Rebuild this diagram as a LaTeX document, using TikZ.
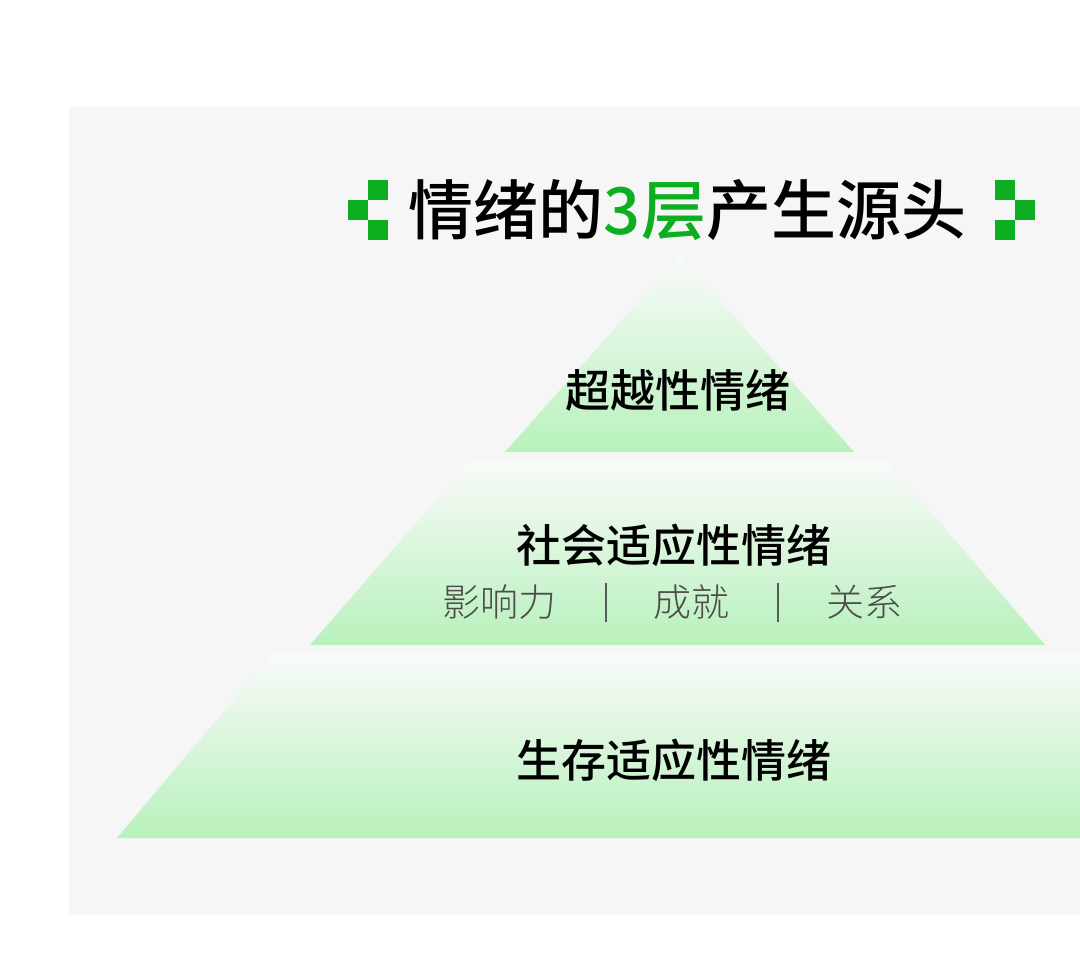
\documentclass[tikz,border=0pt]{standalone}
\usepackage{fontspec}
\usepackage{xcolor}
\usetikzlibrary{positioning}
\setmainfont{Noto Sans CJK SC}
\newfontfamily\cjklight{Noto Sans CJK SC Light}
\newfontfamily\cjkmedium{Noto Sans CJK SC Medium}
\definecolor{panelgray}{HTML}{F6F6F6}
\definecolor{iconsgreen}{HTML}{0DAF20}
\definecolor{layertop}{HTML}{F9FAF9}
\definecolor{layerbot}{HTML}{B8F1BC}
\tikzset{
  pixel/.style={fill=iconsgreen, minimum size=20pt, inner sep=0pt, outer sep=0pt},
  layer/.style={top color=layertop, bottom color=layerbot, draw=none},
  mainlabel/.style={inner sep=0pt, font=\fontsize{45}{45}\selectfont\cjkmedium},
  sublabel/.style={inner sep=0pt, text=black!70, font=\fontsize{38}{38}\selectfont\cjklight},
}
\begin{document}
\begin{tikzpicture}[x=1pt, y=-1pt]
  \useasboundingbox (0,0) rectangle (1080,955);
  \fill[white] (0,0) rectangle (1080,955);
  \fill[panelgray] (69,107) rectangle (1080,915);
  % pyramid
  \shade[layer] (680,255) -- (854,452) -- (505,452) -- cycle;
  \shade[layer] (470,461) -- (887,461) -- (1045,645) -- (310,645) -- cycle;
  \shade[layer] (272,654) -- (1080,654) -- (1080,838) -- (117,838) -- cycle;
  % title
  \node[inner sep=0pt, font=\fontsize{65}{65}\selectfont\cjkmedium] (title) at (687.5,210)
    {情绪的\textcolor{iconsgreen}{3层}产生源头};
  \node[pixel] (lefttop) at (378,190) {};
  \node[pixel, below left=0pt and 0pt of lefttop] (leftmid) {};
  \node[pixel, below right=0pt and 0pt of leftmid] (leftbot) {};
  \node[pixel] (righttop) at (1005,190) {};
  \node[pixel, below right=0pt and 0pt of righttop] (rightmid) {};
  \node[pixel, below left=0pt and 0pt of rightmid] (rightbot) {};
  % labels
  \node[mainlabel] (transcend) at (677.5,390) {超越性情绪};
  \node[mainlabel] (social) at (673.5,545) {社会适应性情绪};
  \node[mainlabel] (survive) at (673.5,760) {生存适应性情绪};
  \node[sublabel] (influence) at (499,602) {影响力};
  \node[sublabel] (achieve) at (691.5,602) {成就};
  \node[sublabel] (relation) at (864,602) {关系};
  \draw[black!65, line width=1.3pt] (606,583) -- (606,622);
  \draw[black!65, line width=1.3pt] (778,583) -- (778,622);
\end{tikzpicture}
\end{document}
